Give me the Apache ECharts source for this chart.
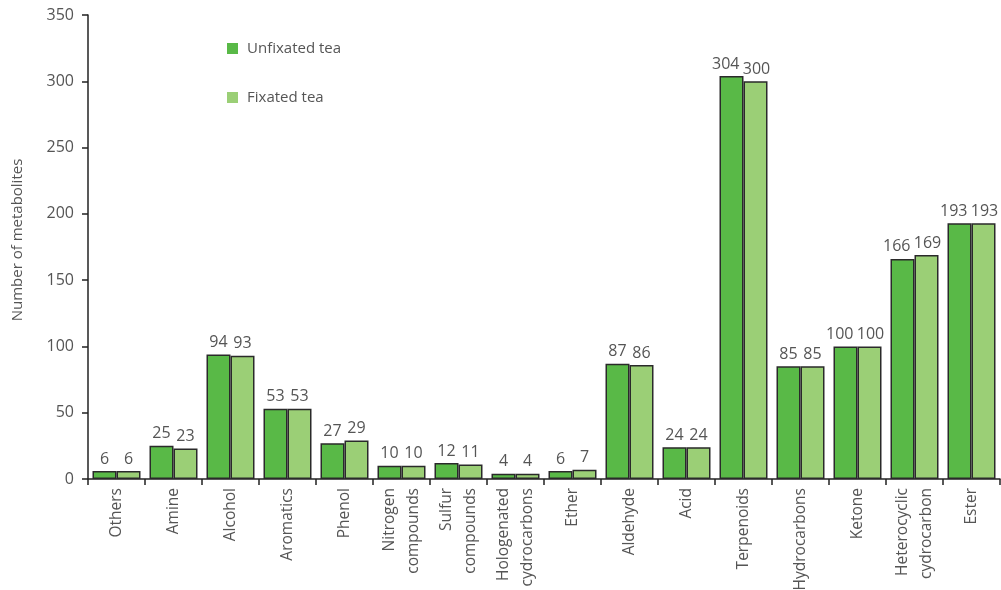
<!DOCTYPE html>
<html>
<head>
<meta charset="utf-8">
<script src="https://cdn.jsdelivr.net/npm/echarts@6/dist/echarts.min.js"></script>
<style>
  html, body { margin: 0; padding: 0; background: #fff; }
  #chart { width: 1001px; height: 590px; }
</style>
</head>
<body>
<div id="chart"></div>
<script>
// Metabolite classes on the x axis
const categories = [
  'Others', 'Amine', 'Alcohol', 'Aromatics', 'Phenol',
  'Nitrogen\ncompounds', 'Sulfur\ncompounds', 'Hologenated\ncydrocarbons',
  'Ether', 'Aldehyde', 'Acid', 'Terpenoids', 'Hydrocarbons', 'Ketone',
  'Heterocyclic\ncydrocarbon', 'Ester'
];
// Number of metabolites per class
const unfixatedTea = [6, 25, 94, 53, 27, 10, 12, 4, 6, 87, 24, 304, 85, 100, 166, 193];
const fixatedTea = [6, 23, 93, 53, 29, 10, 11, 4, 7, 86, 24, 300, 85, 100, 169, 193];
const yTicks = [0, 50, 100, 150, 200, 250, 300, 350];

const FONT = '"Open Sans", "Noto Sans", sans-serif';
const TEXT = '#555';
const BAR_W = 24;

const labelStyle = {
  show: true,
  position: 'top',
  distance: 4,
  color: TEXT,
  fontFamily: FONT,
  fontSize: 16
};

const chart = echarts.init(document.getElementById('chart'));
chart.setOption({
  animation: false,
  backgroundColor: '#fff',
  grid: { left: 88, right: 1, top: 15, bottom: 111, containLabel: false, outerBoundsMode: 'none' },
  legend: {
    orient: 'vertical',
    left: 222,
    top: 36,
    itemGap: 34,
    itemWidth: 11,
    itemHeight: 11,
    icon: 'rect',
    itemStyle: { borderWidth: 0 },
    textStyle: { color: TEXT, fontFamily: FONT, fontSize: 15, padding: [0, 0, 0, 4] },
    data: ['Unfixated tea', 'Fixated tea']
  },
  xAxis: {
    type: 'category',
    data: categories,
    axisLine: { show: true, lineStyle: { color: '#222', width: 1.5 } },
    axisTick: { show: true, alignWithLabel: false, length: 6, lineStyle: { color: '#222', width: 1.5 } },
    axisLabel: {
      rotate: 90,
      interval: 0,
      margin: 9,
      color: TEXT,
      fontFamily: FONT,
      fontSize: 15.5,
      lineHeight: 24
    }
  },
  yAxis: {
    type: 'value',
    min: yTicks[0],
    max: yTicks[yTicks.length - 1],
    interval: 50,
    name: 'Number of metabolites',
    nameLocation: 'middle',
    nameGap: 63,
    nameTextStyle: { color: TEXT, fontFamily: FONT, fontSize: 15, padding: [0, 0, 0, 14] },
    splitLine: { show: false },
    axisLine: { show: true, lineStyle: { color: '#222', width: 1.5 } },
    axisTick: { show: true, length: 6, lineStyle: { color: '#222', width: 1.5 } },
    axisLabel: { color: TEXT, fontFamily: FONT, fontSize: 16, margin: 14 }
  },
  series: [
    {
      name: 'Unfixated tea',
      type: 'bar',
      data: unfixatedTea,
      barWidth: BAR_W,
      barGap: '0%',
      itemStyle: { color: '#59b947', borderColor: '#2a2a2a', borderWidth: 1.5 },
      label: labelStyle,
      // wide value labels lean left so neighbouring labels stay apart
      labelLayout: function (p) {
        const w = p.labelRect.width;
        return w > BAR_W - 4 ? { dx: -(w - BAR_W + 4) / 2 - 2 } : {};
      }
    },
    {
      name: 'Fixated tea',
      type: 'bar',
      data: fixatedTea,
      barWidth: BAR_W,
      barGap: '0%',
      itemStyle: { color: '#9bcf76', borderColor: '#2a2a2a', borderWidth: 1.5 },
      label: labelStyle,
      labelLayout: function (p) {
        const w = p.labelRect.width;
        return w > BAR_W - 4 ? { dx: 1 } : {};
      }
    }
  ]
});
</script>
</body>
</html>
